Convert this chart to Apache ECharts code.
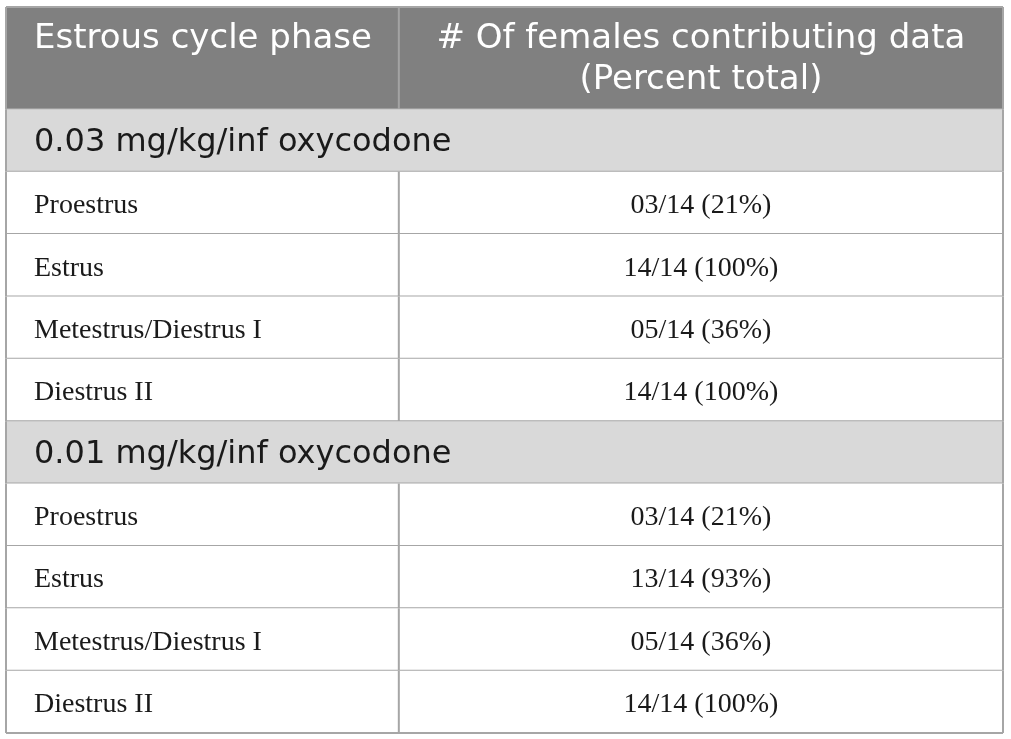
<!DOCTYPE html>
<html>
<head>
<meta charset="utf-8">
<script src="https://cdn.jsdelivr.net/npm/echarts@6/dist/echarts.min.js"></script>
<style>
html,body{margin:0;padding:0;background:#fff;}
#chart{width:1011px;height:739px;}
</style>
</head>
<body>
<div id="chart"></div>
<script>
// ---- table content ----
const headers = ['Estrous cycle phase', '# Of females contributing data\n(Percent total)'];
const sections = ['0.03 mg/kg/inf oxycodone', '0.01 mg/kg/inf oxycodone'];
const phases = ['Proestrus', 'Estrus', 'Metestrus/Diestrus I', 'Diestrus II'];
const totalFemales = 14;
const females003 = [3, 14, 5, 14];
const percent003 = [21, 100, 36, 100];
const females001 = [3, 13, 5, 14];
const percent001 = [21, 93, 36, 100];

// ---- build rows ----
const pad = n => (n < 10 ? '0' : '') + n;
const fmt = (n, p) => pad(n) + '/' + totalFemales + ' (' + p + '%)';
const groups = [[females003, percent003], [females001, percent001]];

const HEADER_UNITS = 1.64;
const rows = [];
let cursor = 0;
rows.push({ kind: 'header', start: cursor, end: cursor + HEADER_UNITS, a: headers[0], b: headers[1] });
cursor += HEADER_UNITS;
sections.forEach((s, gi) => {
  rows.push({ kind: 'section', start: cursor, end: cursor + 1, a: s, b: '' });
  cursor += 1;
  phases.forEach((ph, i) => {
    rows.push({ kind: 'row', start: cursor, end: cursor + 1, a: ph, b: fmt(groups[gi][0][i], groups[gi][1][i]) });
    cursor += 1;
  });
});
const totalUnits = cursor;
const COL_SPLIT = 0.394;

const kinds = ['header', 'section', 'row'];
const data = rows.map(r => [r.start, r.end, kinds.indexOf(r.kind)]);

const BORDER = '#a6a6a6';
const SANS = '"DejaVu Sans"';
const SERIF = '"Liberation Serif"';

function renderItem(params, api) {
  const start = api.value(0), end = api.value(1), kind = kinds[api.value(2)];
  const a = rows[params.dataIndex].a, b = rows[params.dataIndex].b;
  const tl = api.coord([0, start]);
  const br = api.coord([1, end]);
  const mid = api.coord([COL_SPLIT, start])[0];
  const x0 = tl[0], y0 = tl[1], x1 = br[0], y1 = br[1];
  const h = y1 - y0;
  const children = [];
  let fill = '#ffffff';
  if (kind === 'header') fill = '#808080';
  if (kind === 'section') fill = '#d9d9d9';
  children.push({ type: 'rect', shape: { x: x0, y: y0, width: x1 - x0, height: h }, style: { fill: fill } });
  if (kind !== 'section') {
    children.push({ type: 'line', shape: { x1: mid, y1: y0, x2: mid, y2: y1 },
      style: { stroke: kind === 'header' ? '#a3a3a3' : BORDER, lineWidth: 2 } });
  }
  children.push({ type: 'line', shape: { x1: x0, y1: y1, x2: x1, y2: y1 }, style: { stroke: BORDER, lineWidth: 2 } });
  children.push({ type: 'line', shape: { x1: x0, y1: y0, x2: x0, y2: y1 }, style: { stroke: BORDER, lineWidth: 2 } });
  children.push({ type: 'line', shape: { x1: x1, y1: y0, x2: x1, y2: y1 }, style: { stroke: BORDER, lineWidth: 2 } });
  if (params.dataIndex === 0) {
    children.push({ type: 'line', shape: { x1: x0, y1: y0, x2: x1, y2: y0 }, style: { stroke: BORDER, lineWidth: 2 } });
  }
  const padL = 28;
  if (kind === 'header') {
    children.push({ type: 'text', style: { text: a, x: x0 + padL, y: y0 + 32, fill: '#ffffff',
      font: '34px ' + SANS, textAlign: 'left', textVerticalAlign: 'middle' } });
    const lines = b.split('\n');
    lines.forEach((ln, li) => {
      children.push({ type: 'text', style: { text: ln, x: (mid + x1) / 2, y: y0 + 32 + li * 41, fill: '#ffffff',
        font: '34px ' + SANS, textAlign: 'center', textVerticalAlign: 'middle' } });
    });
  } else if (kind === 'section') {
    children.push({ type: 'text', style: { text: a, x: x0 + padL, y: (y0 + y1) / 2 + 2, fill: '#1a1a1a',
      font: '32px ' + SANS, textAlign: 'left', textVerticalAlign: 'middle' } });
  } else {
    children.push({ type: 'text', style: { text: a, x: x0 + padL, y: (y0 + y1) / 2 + 3, fill: '#1a1a1a',
      font: '28px ' + SERIF, textAlign: 'left', textVerticalAlign: 'middle' } });
    children.push({ type: 'text', style: { text: b, x: (mid + x1) / 2, y: (y0 + y1) / 2 + 3, fill: '#1a1a1a',
      font: '28px ' + SERIF, textAlign: 'center', textVerticalAlign: 'middle' } });
  }
  return { type: 'group', children: children };
}

const chart = echarts.init(document.getElementById('chart'));
chart.setOption({
  animation: false,
  grid: { left: 6, top: 7, right: 8, bottom: 6 },
  xAxis: { type: 'value', min: 0, max: 1, show: false },
  yAxis: { type: 'value', min: 0, max: totalUnits, inverse: true, show: false },
  series: [{
    type: 'custom',
    renderItem: renderItem,
    data: data,
    encode: { x: -1, y: [0, 1] },
    clip: false
  }]
});
</script>
</body>
</html>
